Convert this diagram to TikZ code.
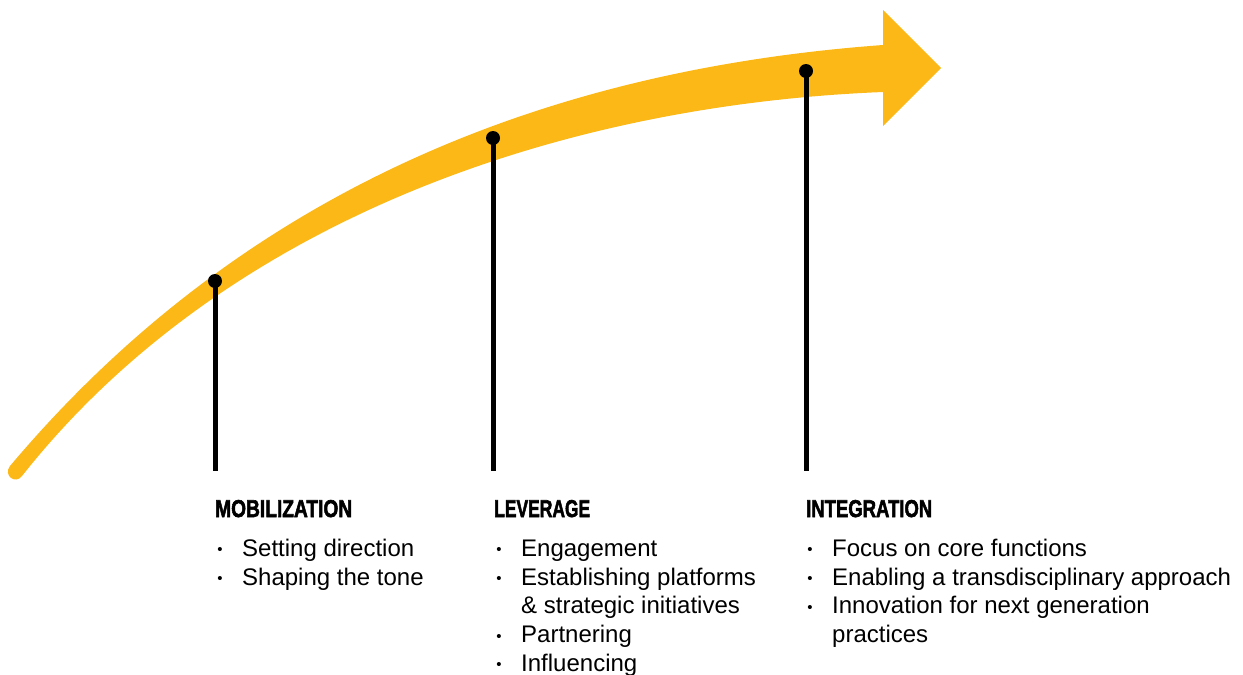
\documentclass[tikz,border=0pt]{standalone}
\usepackage{fontspec}
\setmainfont{Liberation Sans}
\newfontfamily\headfont[FakeBold=2.5]{Liberation Sans Bold}
\usepackage{graphicx}
\definecolor{arrowyellow}{HTML}{FBB817}
\newcommand{\bul}{\llap{\raisebox{1.6pt}{\fontsize{15pt}{15pt}\selectfont •}\hspace{19.6pt}}}
\newcommand{\headtxt}[3]{\resizebox{#1pt}{#2pt}{\headfont #3}}
\begin{document}
\begin{tikzpicture}[x=1pt,y=-1pt,
  dot/.style={circle,fill=black,inner sep=0pt,minimum size=14pt},
  rod/.style={line width=5pt,black},
  head/.style={anchor=base west,inner sep=0pt},
  itm/.style={anchor=base west,inner sep=0pt,font=\fontsize{24pt}{28.7pt}\selectfont}]
\useasboundingbox (0,0) rectangle (1243,675);
% curved arrow band
\fill[arrowyellow] (10,466) .. controls (236,198) and (534,70.6) .. (883,45)
  -- (883,10) -- (941,68) -- (883,126) -- (883,92)
  .. controls (553,105.2) and (220.4,224.8) .. (22,476)
  .. controls (15,485) and (3,475) .. (10,466) -- cycle;
% dots and rods
\node[dot] (d1) at (215,281) {};
\node[dot] (d2) at (493,138) {};
\node[dot] (d3) at (806,71) {};
\coordinate (b1) at (215,471);
\coordinate (b2) at (493,471);
\coordinate (b3) at (806,471);
\draw[rod] (d1.center) -- (b1);
\draw[rod] (d2.center) -- (b2);
\draw[rod] (d3.center) -- (b3);
% headings
\node[head] (h1) at (215,517) {\headtxt{137}{17}{MOBILIZATION}};
\node[head] (h2) at (494,517) {\headtxt{96}{17}{LEVERAGE}};
\node[head] (h3) at (806,517) {\headtxt{126}{17}{INTEGRATION}};
% lists
\node[itm] (m1) at (242,556.5) {\bul Setting direction};
\node[itm] (m2) at (242,585.2) {\bul Shaping the tone};
\node[itm] (l1) at (521,556.5) {\bul Engagement};
\node[itm] (l2) at (521,585.2) {\bul Establishing platforms};
\node[itm] (l3) at (521,613.9) {\& strategic initiatives};
\node[itm] (l4) at (521,642.6) {\bul Partnering};
\node[itm] (l5) at (521,671.3) {\bul Influencing};
\node[itm] (i1) at (832,556.5) {\bul Focus on core functions};
\node[itm] (i2) at (832,585.2) {\bul Enabling a transdisciplinary approach};
\node[itm] (i3) at (832,613.9) {\bul Innovation for next generation};
\node[itm] (i4) at (832,642.6) {practices};
\end{tikzpicture}
\end{document}
